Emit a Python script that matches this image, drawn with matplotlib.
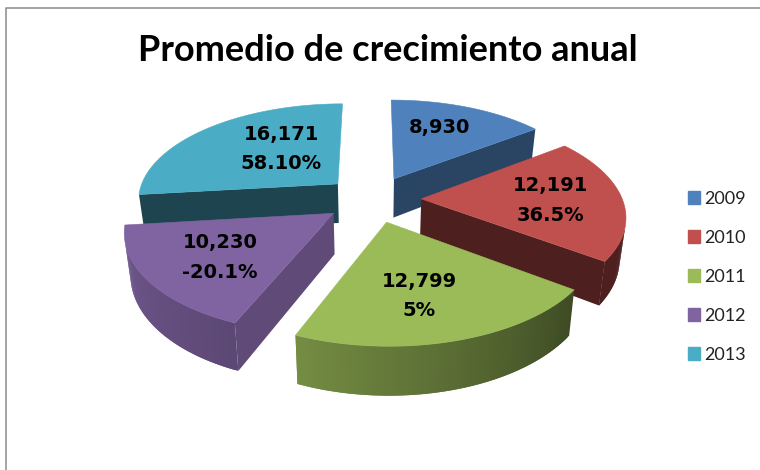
import matplotlib
matplotlib.use("Agg")
import matplotlib.pyplot as plt
from matplotlib.patches import Patch, Polygon
import matplotlib.colors as mcolors
import numpy as np

years = ["2009", "2010", "2011", "2012", "2013"]
values = [8930, 12191, 12799, 10230, 16171]
growth = ["", "36.5%", "5%", "-20.1%", "58.10%"]
colors = ["#4f81bd", "#c0504d", "#9bbb59", "#8064a2", "#4bacc6"]

# shading of the sides, per slice: outer face (start, end) and flat cut face
arc_shade = [(0.53, 0.53), (0.40, 0.40), (0.40, 0.75), (0.72, 0.88), (0.40, 0.40)]
cut_shade = [0.53, 0.40, 0.40, 0.74, 0.40]
# where the labels sit inside each slice: radius and turn from the middle
label_rho = [0.68, 0.64, 0.65, 0.65, 0.51]
label_turn = [-3.4, 1.5, 4, -2, 10]

# camera, all in pixels
X0, Y0 = 373, 199
SCALE, TILT, PERSP = 201, 96.8, 0.155
HEIGHT, SHRINK = 40, 0.975
EXPLODE = 0.24


def project(x, y, bottom=False):
    w = 1 + PERSP * y
    sx = SCALE * x / w
    sy = TILT * y / w
    if bottom:
        return X0 + sx * SHRINK, Y0 - sy + HEIGHT / w
    return X0 + sx, Y0 - sy


def shade(color, f):
    return tuple(c * f for c in mcolors.to_rgb(color))


def area(pts):
    p = np.array(pts)
    return 0.5 * np.sum(p[:, 0] * np.roll(p[:, 1], -1) - np.roll(p[:, 0], -1) * p[:, 1])


def side(ax, a, b, color, zorder, min_area=0.0):
    # a and b are plane points, the quad hangs under them
    pts = [project(*a), project(*b), project(*b, True), project(*a, True)]
    if area(pts) < -min_area:
        ax.add_patch(Polygon(pts, fc=color, lw=0, zorder=zorder))


fig = plt.figure(figsize=(7.6, 4.7), dpi=100)
ax = fig.add_axes([0, 0, 1, 1])
ax.set_xlim(0, 760)
ax.set_ylim(470, 0)
ax.axis("off")

ax.plot([6, 6, 760], [470, 8, 8], color="#8a8a8a", lw=1.1)

ends = np.cumsum(values) / sum(values) * 360
starts = np.concatenate([[0], ends[:-1]])
draw_order = [0, 4, 1, 3, 2]

for z, i in enumerate(draw_order):
    t0, t1 = starts[i], ends[i]
    mid = np.radians((t0 + t1) / 2)
    ox, oy = EXPLODE * np.sin(mid), EXPLODE * np.cos(mid)
    th = np.radians(np.linspace(t0, t1, 80))
    rim = [(ox + np.sin(t), oy + np.cos(t)) for t in th]
    apex = (ox, oy)

    # min_area drops the thin slivers of nearly edge-on cuts
    side(ax, apex, rim[0], shade(colors[i], cut_shade[i]), z * 3, 1000)
    side(ax, rim[-1], apex, shade(colors[i], cut_shade[i]), z * 3, 1000)
    for k in range(len(rim) - 1):
        f = arc_shade[i][0] + (arc_shade[i][1] - arc_shade[i][0]) * k / (len(rim) - 2)
        # overlap the next strip so no seams show
        side(ax, rim[k], rim[min(k + 2, len(rim) - 1)], shade(colors[i], f), z * 3 + 1)

    top = [project(*apex)] + [project(*p) for p in rim]
    ax.add_patch(Polygon(top, fc=colors[i], ec=colors[i], lw=0.4, zorder=z * 3 + 2))

    turn = mid + np.radians(label_turn[i])
    lx, ly = project(ox + label_rho[i] * np.sin(turn), oy + label_rho[i] * np.cos(turn))
    label = f"{values[i]:,}"
    if growth[i]:
        label += "\n" + growth[i]
    ax.text(lx, ly, label, ha="center", va="center", fontsize=14, fontweight="bold",
            family="DejaVu Sans", color="black", linespacing=1.72, zorder=30)

ax.text(388, 61, "Promedio de crecimiento anual", ha="center", va="baseline",
        fontsize=26, fontweight="bold", family="Lato", color="black")

handles = [Patch(fc=c, ec=c, label=y) for c, y in zip(colors, years)]
ax.legend(handles=handles, loc="center left", bbox_to_anchor=(0.905, 0.411), frameon=False,
          prop={"family": "Lato", "size": 13}, labelspacing=1.27, handlelength=0.67,
          handleheight=0.67, handletextpad=0.25, borderpad=0, borderaxespad=0,
          labelcolor="#222222")

fig.savefig("out.png", dpi=100)
